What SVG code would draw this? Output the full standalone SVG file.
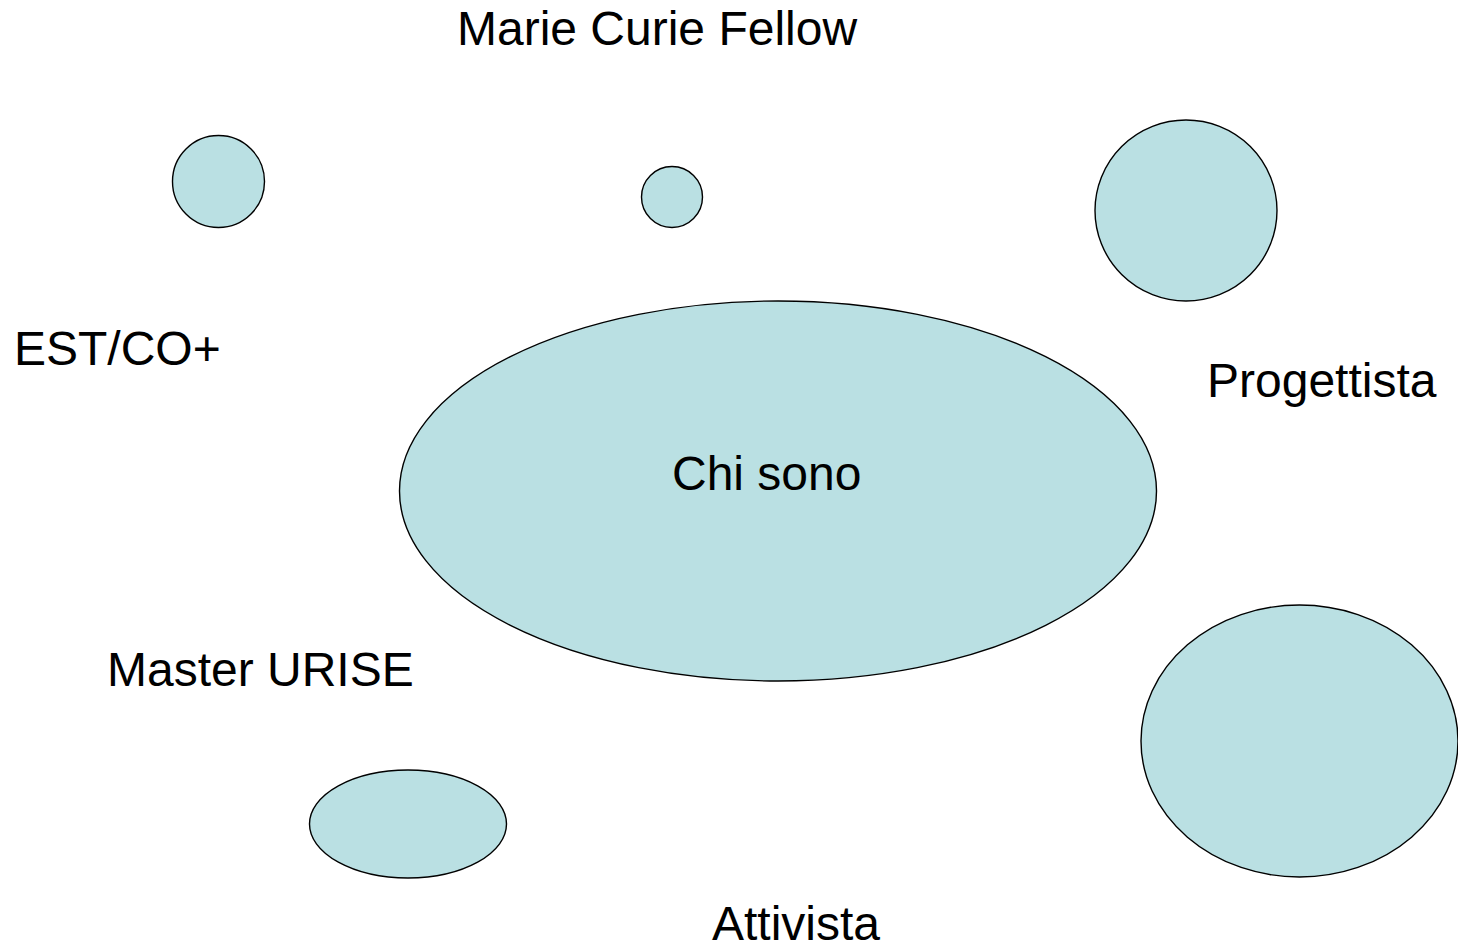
<svg xmlns="http://www.w3.org/2000/svg" width="1458" height="950" viewBox="0 0 1458 950">
<style>
.n{fill:#bae0e3;stroke:#000;stroke-width:1.4}
.t{font-family:"Liberation Sans",Arial,sans-serif;font-size:48px;fill:#000}
</style>
<rect width="1458" height="950" fill="#fff"/>
<g id="connectors"></g>
<g id="circle-a"><circle class="n" cx="218.5" cy="181.5" r="46"/></g>
<g id="circle-b"><circle class="n" cx="672" cy="197" r="30.5"/></g>
<g id="circle-c"><ellipse class="n" cx="1186" cy="210.5" rx="91" ry="90.5"/></g>
<g id="chi-sono"><ellipse class="n" cx="778" cy="491" rx="378.5" ry="190"/><text class="t" x="672" y="490">Chi sono</text></g>
<g id="ellipse-bl"><ellipse class="n" cx="408" cy="824" rx="98.5" ry="54"/></g>
<g id="ellipse-r"><ellipse class="n" cx="1299.5" cy="741" rx="158.5" ry="136"/></g>
<g id="labels">
<text class="t" x="457" y="45">Marie Curie Fellow</text>
<text class="t" x="14" y="365">EST/CO+</text>
<text class="t" x="1207" y="397">Progettista</text>
<text class="t" x="107" y="686">Master URISE</text>
<text class="t" x="712" y="940">Attivista</text>
</g>
</svg>
